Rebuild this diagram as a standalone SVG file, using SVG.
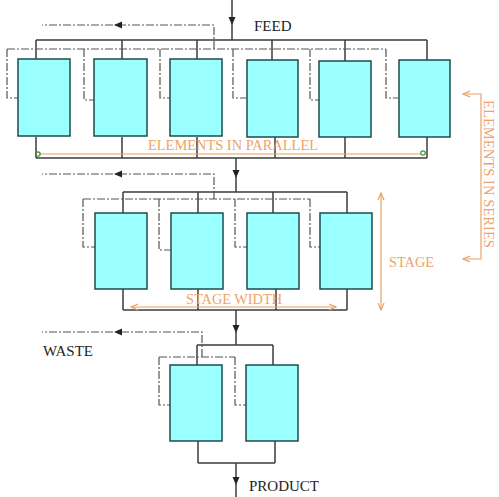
<svg xmlns="http://www.w3.org/2000/svg" width="499" height="497" viewBox="0 0 499 497">
<style>
.box{fill:#99FFFF;stroke:#1E4B4B;stroke-width:1.5}
.pipe{fill:none;stroke:#3C3C3C;stroke-width:1.5}
.rec{fill:none;stroke:#555;stroke-width:1.2;stroke-dasharray:8 2 2 2}
.dim{fill:none;stroke:#EBA263;stroke-width:1.2}
.lbl{font-family:"Liberation Serif",serif;font-size:15px;fill:#222}
.olbl{font-family:"Liberation Serif",serif;font-size:15px;fill:#EDA46A}
</style>
<defs>
<marker id="ah" markerWidth="8" markerHeight="8" refX="7" refY="4" orient="auto" markerUnits="userSpaceOnUse"><path d="M0,0.5 L8,4 L0,7.5 Z" fill="#222"/></marker>
<marker id="oh" markerWidth="8" markerHeight="8" refX="7" refY="4" orient="auto" markerUnits="userSpaceOnUse"><path d="M0,1 L7,4 L0,7" fill="none" stroke="#EBA263" stroke-width="1.2"/></marker>
</defs>

<g id="connectors">
  <!-- feed -->
  <path class="pipe" d="M232,0 V24" marker-end="url(#ah)"/>
  <path class="pipe" d="M232,22 V40"/>
  <!-- stage 1 header/collector -->
  <path class="pipe" d="M36,40 H427 M36,40 V60 M122,40 V60 M197,40 V60 M272,40 V60 M345,40 V61 M427,40 V60"/>
  <path class="pipe" d="M36,137 V158 M122,137 V158 M197,137 V158 M275,137 V158 M345,137 V158 M427,137 V158 M36,158 H427"/>
  <path class="pipe" d="M236,158 V177" marker-end="url(#ah)"/>
  <path class="pipe" d="M236,175 V192"/>
  <!-- stage 2 -->
  <path class="pipe" d="M123,192 H347 M123,192 V213 M198,192 V213 M273,192 V213 M347,192 V213"/>
  <path class="pipe" d="M123,289 V310 M198,289 V310 M276,289 V310 M347,289 V310 M123,310 H347"/>
  <path class="pipe" d="M236,310 V332" marker-end="url(#ah)"/>
  <path class="pipe" d="M236,330 V345"/>
  <!-- stage 3 -->
  <path class="pipe" d="M197,345 H273 M197,345 V365 M273,345 V365"/>
  <path class="pipe" d="M198,441 V463 M275,441 V463 M198,463 H275"/>
  <path class="pipe" d="M236,463 V484" marker-end="url(#ah)"/>
  <path class="pipe" d="M236,482 V497"/>

  <!-- recycle stage 1 -->
  <path class="rec" d="M214,49 V25 H115" marker-end="url(#ah)"/>
  <path class="rec" d="M113,25 H42"/>
  <path class="rec" d="M7,49 H386 M7,49 V98 H18 M84,49 V100 H94 M160,49 V98 H170 M233,49 V98 H246 M310,49 V100 H320 M386,49 V98 H398"/>
  <!-- recycle stage 2 -->
  <path class="rec" d="M214,199 V174 H115" marker-end="url(#ah)"/>
  <path class="rec" d="M113,174 H42"/>
  <path class="rec" d="M83,199 H310 M83,199 V247 H95 M159,199 V250 H171 M235,199 V247 H247 M310,199 V247 H320"/>
  <!-- recycle stage 3 -->
  <path class="rec" d="M202,357 V332 H115" marker-end="url(#ah)"/>
  <path class="rec" d="M113,332 H42"/>
  <path class="rec" d="M159,357 H235 M159,357 V405 H170 M235,357 V405 H246"/>

  <!-- dimension lines -->
  <path class="dim" d="M39,154 H421"/>
  <circle cx="38" cy="154" r="2.2" fill="none" stroke="#3A9A2A" stroke-width="1.2"/>
  <circle cx="423" cy="153" r="2.2" fill="none" stroke="#3A9A2A" stroke-width="1.2"/>
  <path class="dim" d="M232,307 H131" marker-end="url(#oh)"/>
  <path class="dim" d="M232,307 H336" marker-end="url(#oh)"/>
  <path class="dim" d="M381,250 V193" marker-end="url(#oh)"/>
  <path class="dim" d="M381,250 V310" marker-end="url(#oh)"/>
  <path class="dim" d="M481,170 V94 H463" marker-end="url(#oh)"/>
  <path class="dim" d="M481,170 V259 H463" marker-end="url(#oh)"/>
</g>

<g id="stage1">
  <rect id="s1e1" class="box" x="18" y="59" width="52" height="77"/>
  <rect id="s1e2" class="box" x="94" y="59" width="53" height="77"/>
  <rect id="s1e3" class="box" x="170" y="59" width="52" height="77"/>
  <rect id="s1e4" class="box" x="247" y="60" width="51" height="77"/>
  <rect id="s1e5" class="box" x="319" y="61" width="52" height="76"/>
  <rect id="s1e6" class="box" x="399" y="60" width="51" height="77"/>
</g>
<g id="stage2">
  <rect id="s2e1" class="box" x="95" y="213" width="52" height="76"/>
  <rect id="s2e2" class="box" x="171" y="213" width="52" height="76"/>
  <rect id="s2e3" class="box" x="247" y="213" width="52" height="76"/>
  <rect id="s2e4" class="box" x="320" y="213" width="52" height="76"/>
</g>
<g id="stage3">
  <rect id="s3e1" class="box" x="170" y="365" width="52" height="76"/>
  <rect id="s3e2" class="box" x="246" y="365" width="52" height="76"/>
</g>

<g id="labels">
  <text class="lbl" x="254" y="31">FEED</text>
  <text class="lbl" x="43" y="356">WASTE</text>
  <text class="lbl" x="249" y="491">PRODUCT</text>
  <text class="olbl" x="148" y="150" textLength="170" lengthAdjust="spacingAndGlyphs">ELEMENTS IN PARALLEL</text>
  <text class="olbl" x="186" y="304" textLength="96" lengthAdjust="spacingAndGlyphs">STAGE WIDTH</text>
  <text class="olbl" x="389" y="267" textLength="45" lengthAdjust="spacingAndGlyphs">STAGE</text>
  <text class="olbl" transform="translate(484,100) rotate(90)" x="0" y="0" textLength="148" lengthAdjust="spacingAndGlyphs">ELEMENTS IN SERIES</text>
</g>
</svg>
